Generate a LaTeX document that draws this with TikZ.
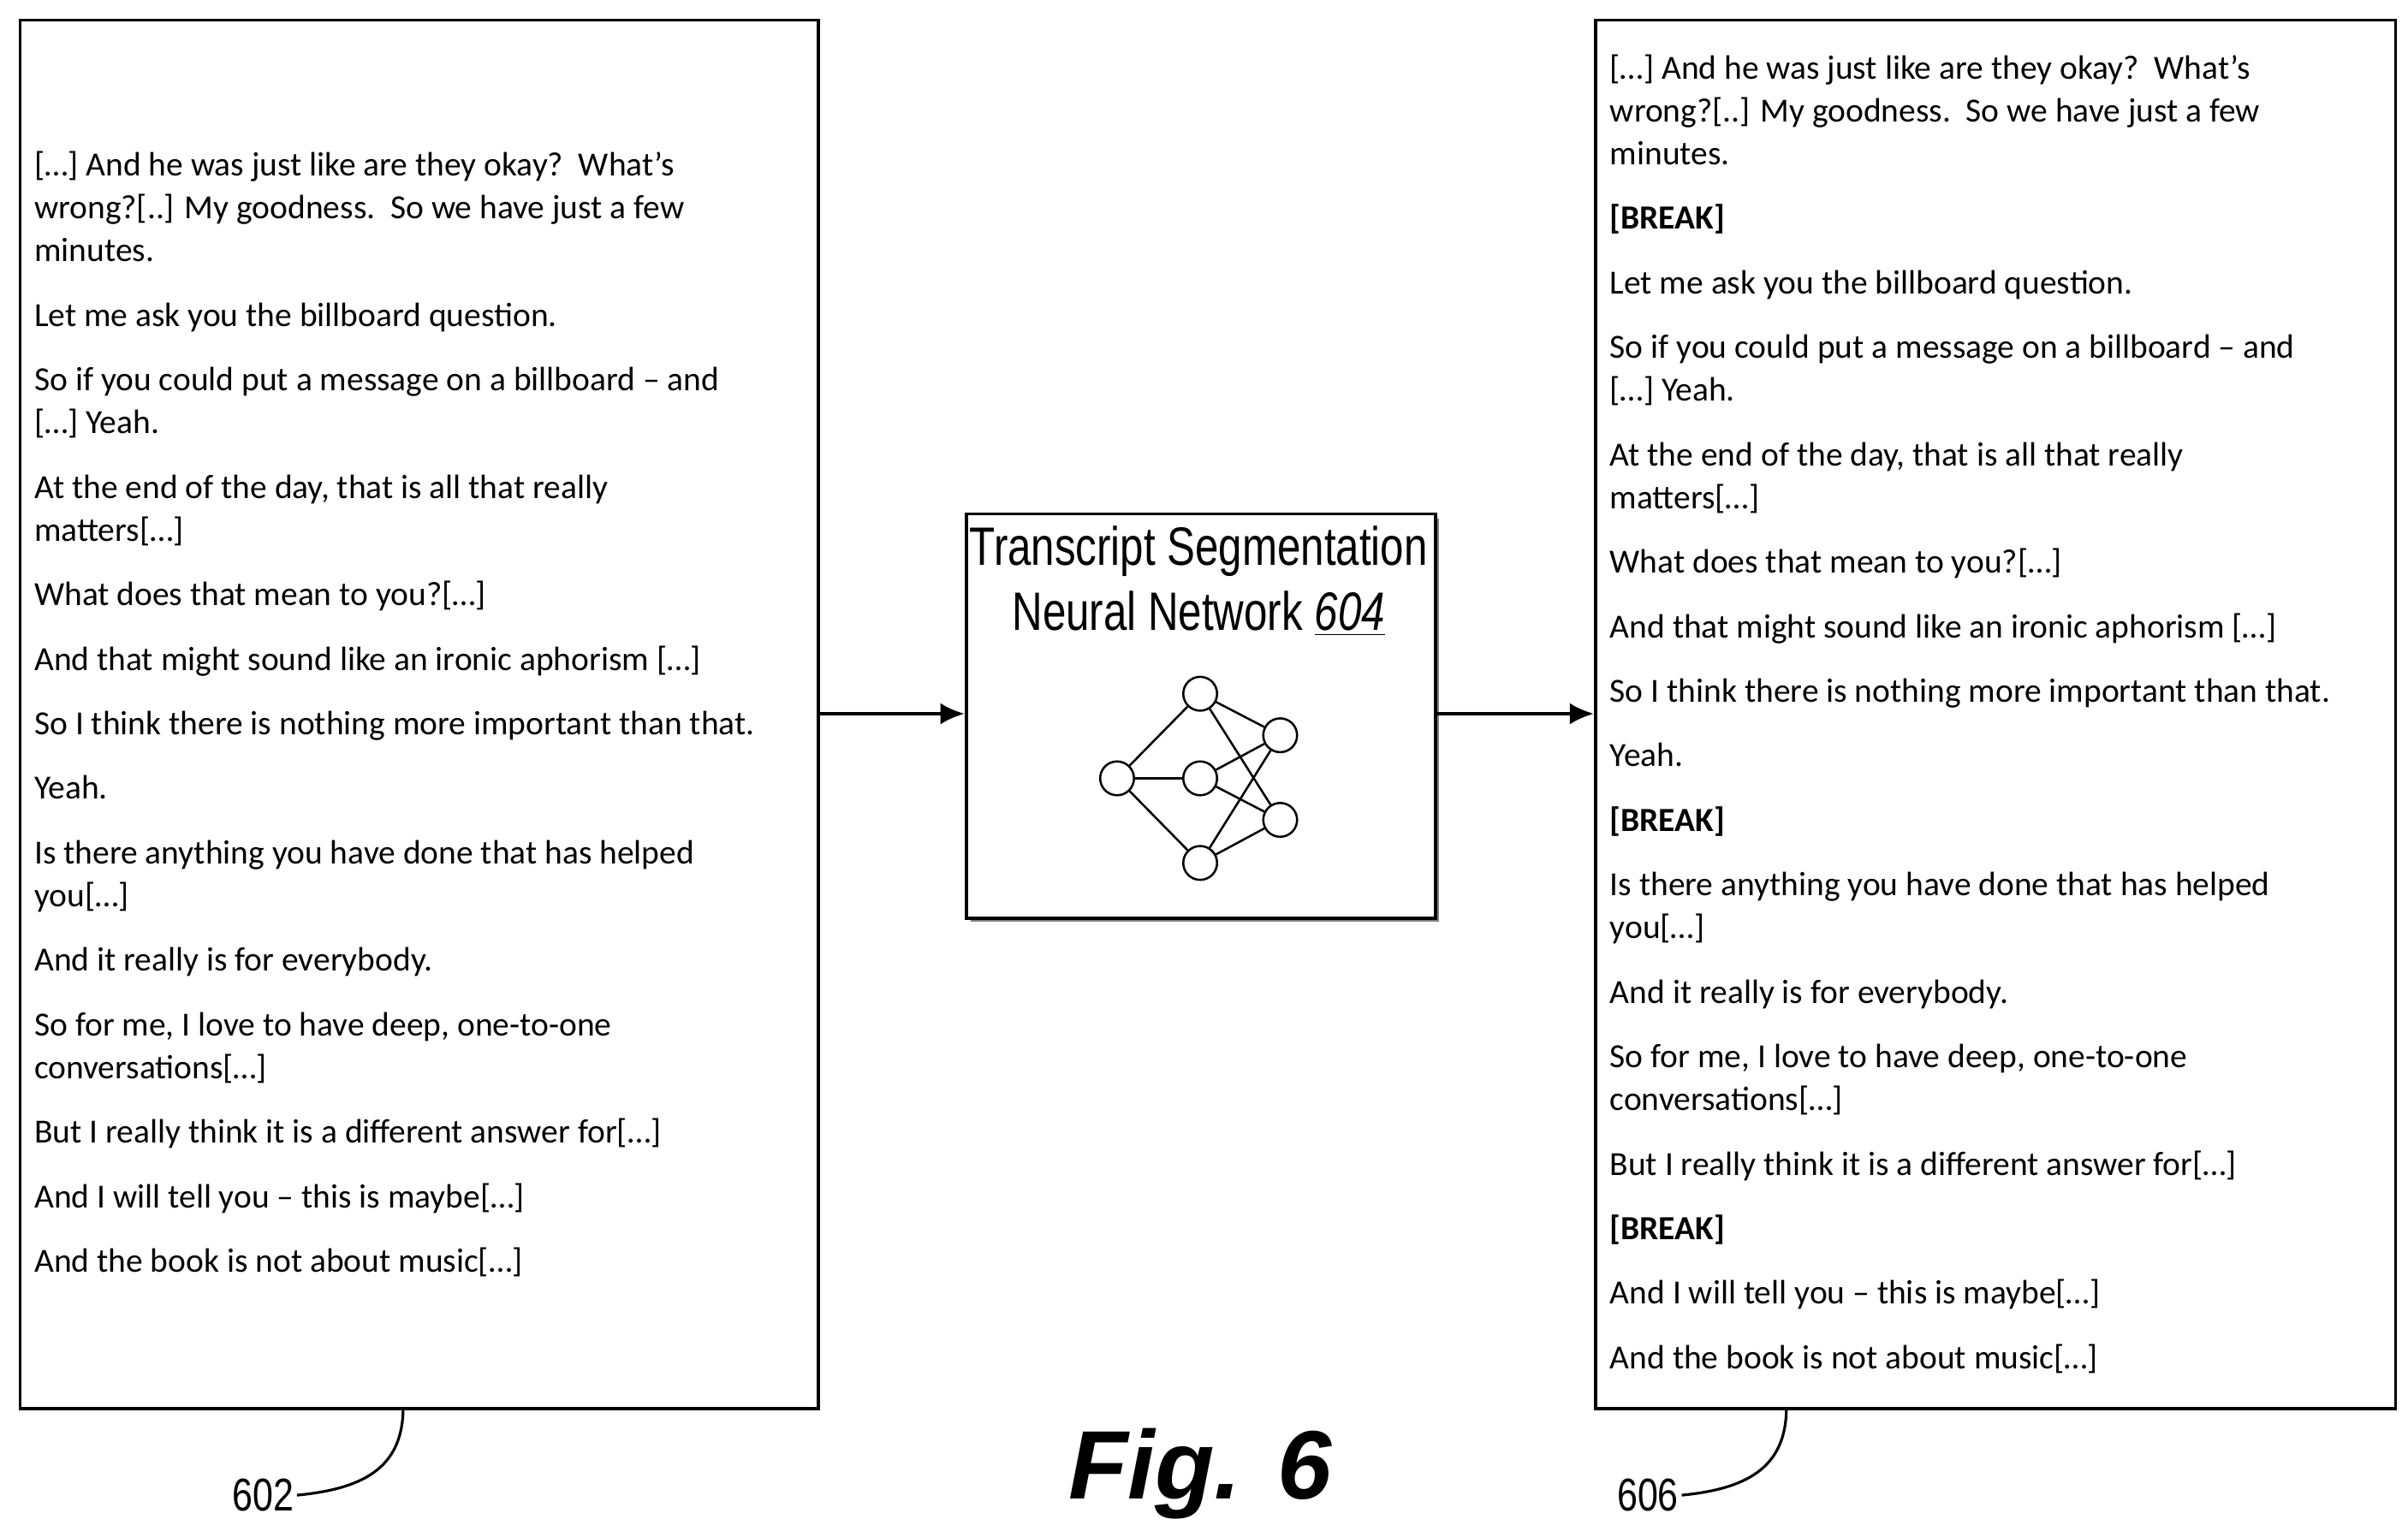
\documentclass[tikz,border=0pt]{standalone}
\usepackage{fontspec}
\usetikzlibrary{arrows.meta}
\setmainfont{Carlito}
\newfontfamily\arialf{Liberation Sans}
\begin{document}
\begin{tikzpicture}[x=0.02cm,y=-0.02cm,
  box/.style={draw,line width=1.2pt},
  txt/.style={anchor=north west,inner sep=0pt,align=left,font=\fontsize{12.5}{15.9}\selectfont},
  nn/.style={circle,draw,line width=0.8pt,minimum size=0.44cm,inner sep=0pt,fill=white},
  arr/.style={line width=1.4pt,-{Latex[length=9pt,width=8pt]}},
  lead/.style={line width=1pt}]
\useasboundingbox (0,0) rectangle (1565,999);
\node[box,minimum width=10.38cm,minimum height=18.06cm,anchor=north west] (L) at (12,12) {};
\node[box,minimum width=10.4cm,minimum height=18.06cm,anchor=north west] (R) at (1036,12) {};
\fill[gray] (631,337) rectangle (935,599);
\node[box,fill=white,minimum width=6.1cm,minimum height=5.26cm,anchor=north west] (M) at (627,333) {};
\node[font=\arialf\fontsize{20}{24}\selectfont,align=center] (T) at (779,378) {\scalebox{0.78}[1]{Transcript Segmentation}\\\scalebox{0.78}[1]{Neural Network \textit{\underline{604}}}};
\node[nn] (i) at (726,506) {};
\node[nn] (h1) at (780,451) {};
\node[nn] (h2) at (780,506) {};
\node[nn] (h3) at (780,561) {};
\node[nn] (o1) at (832,478) {};
\node[nn] (o2) at (832,533) {};
\foreach \h in {h1,h2,h3}{\draw[line width=0.8pt] (i)--(\h); \draw[line width=0.8pt] (\h)--(o1); \draw[line width=0.8pt] (\h)--(o2);}
\draw[arr] (L.east |- 0,464) -- (M.west |- 0,464);
\draw[arr] (M.east |- 0,464) -- (R.west |- 0,464);
\node[txt] (lt) at (22,98) {[…] And he was just like are they okay?\ \ What’s\\wrong?[..] My goodness.\ \ So we have just a few\\minutes.\\[0.28cm]
Let me ask you the billboard question.\\[0.28cm]
So if you could put a message on a billboard – and\\{}[…] Yeah.\\[0.28cm]
At the end of the day, that is all that really\\matters[…]\\[0.28cm]
What does that mean to you?[…]\\[0.28cm]
And that might sound like an ironic aphorism […]\\[0.28cm]
So I think there is nothing more important than that.\\[0.28cm]
Yeah.\\[0.28cm]
Is there anything you have done that has helped\\you[…]\\[0.28cm]
And it really is for everybody.\\[0.28cm]
So for me, I love to have deep, one-to-one\\conversations[…]\\[0.28cm]
But I really think it is a different answer for[…]\\[0.28cm]
And I will tell you – this is maybe[…]\\[0.28cm]
And the book is not about music[…]};
\node[txt] (rt) at (1046,35) {[…] And he was just like are they okay?\ \ What’s\\wrong?[..] My goodness.\ \ So we have just a few\\minutes.\\[0.28cm]
\textbf{[BREAK]}\\[0.28cm]
Let me ask you the billboard question.\\[0.28cm]
So if you could put a message on a billboard – and\\{}[…] Yeah.\\[0.28cm]
At the end of the day, that is all that really\\matters[…]\\[0.28cm]
What does that mean to you?[…]\\[0.28cm]
And that might sound like an ironic aphorism […]\\[0.28cm]
So I think there is nothing more important than that.\\[0.28cm]
Yeah.\\[0.28cm]
\textbf{[BREAK]}\\[0.28cm]
Is there anything you have done that has helped\\you[…]\\[0.28cm]
And it really is for everybody.\\[0.28cm]
So for me, I love to have deep, one-to-one\\conversations[…]\\[0.28cm]
But I really think it is a different answer for[…]\\[0.28cm]
\textbf{[BREAK]}\\[0.28cm]
And I will tell you – this is maybe[…]\\[0.28cm]
And the book is not about music[…]};
\node[font=\arialf\bfseries\itshape\fontsize{36}{40}\selectfont] (fig) at (780,958) {Fig. 6};
\node[font=\arialf\fontsize{17}{20}\selectfont,anchor=east,inner sep=1pt] (n602) at (193,972) {\scalebox{0.8}[1]{602}};
\node[font=\arialf\fontsize{17}{20}\selectfont,anchor=east,inner sep=1pt] (n606) at (1093,972) {\scalebox{0.8}[1]{606}};
\coordinate (c1) at (262,915); \coordinate (c2) at (1161,915);
\draw[lead] (c1) .. controls (262,955) and (235,968) .. (n602.east);
\draw[lead] (c2) .. controls (1161,955) and (1134,968) .. (n606.east);
\end{tikzpicture}
\end{document}
